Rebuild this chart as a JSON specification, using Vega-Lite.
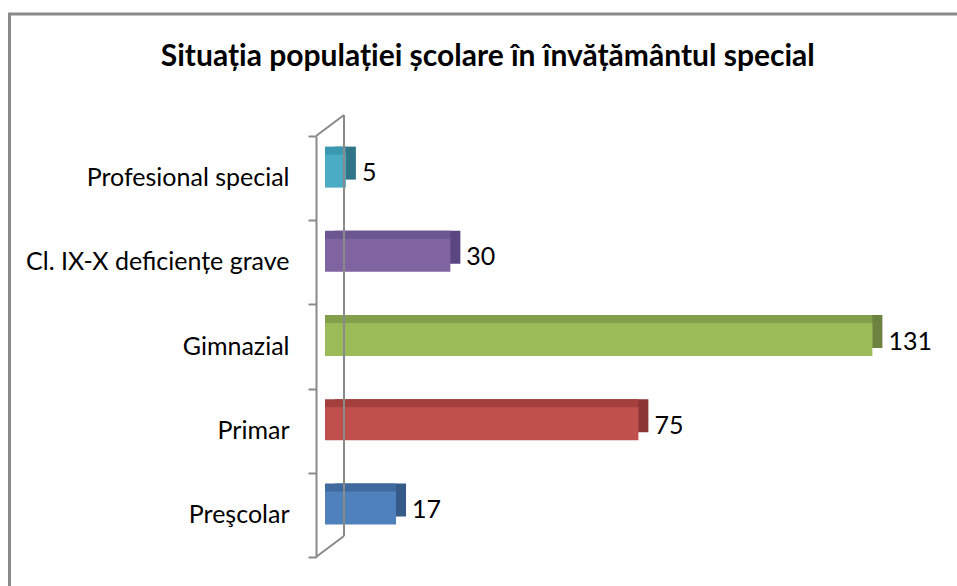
{
  "$schema": "https://vega.github.io/schema/vega-lite/v6.json",
  "width": 952.5,
  "height": 577,
  "autosize": {"type": "none"},
  "padding": {"left": 9.5, "top": 14, "right": -5, "bottom": -5},
  "background": "white",
  "config": {
    "view": {"stroke": "#8a8a8a", "strokeWidth": 3, "fill": "white"},
    "font": "Lato"
  },
  "title": {
    "text": "Situația populației școlare în învățământul special",
    "font": "Lato",
    "fontSize": 30,
    "fontWeight": "bold",
    "color": "#000000",
    "anchor": "middle",
    "frame": "group",
    "offset": -58,
    "dx": 2
  },
  "data": {
    "values": [
      {"cat": "Profesional special", "v": 5},
      {"cat": "Cl. IX-X deficiențe grave", "v": 30},
      {"cat": "Gimnazial", "v": 131},
      {"cat": "Primar", "v": 75},
      {"cat": "Preşcolar", "v": 17}
    ]
  },
  "resolve": {"scale": {"y": "independent"}, "axis": {"y": "independent"}},
  "layer": [
    {
      "resolve": {"scale": {"color": "independent"}},
      "layer": [
        {
          "mark": {"type": "bar", "height": 33, "xOffset": 10, "x2Offset": 10, "yOffset": -15},
          "encoding": {
            "x": {"field": "v", "type": "quantitative", "scale": {"domain": [0, 140], "range": [315.5, 900.5], "nice": false, "zero": true}, "axis": null},
            "y": {"field": "cat", "type": "nominal", "sort": null, "scale": {"domain": ["Profesional special", "Cl. IX-X deficiențe grave", "Gimnazial", "Primar", "Preşcolar"], "range": [122, 543], "paddingInner": 0, "paddingOuter": 0},
              "axis": {"orient": "left", "offset": -306.5, "domain": false, "ticks": false, "labelPadding": 27, "labelFontSize": 25, "labelFont": "Lato", "labelColor": "#000000", "labelLimit": 0, "title": null}},
            "color": {"field": "cat", "type": "nominal", "legend": null, "scale": {"domain": ["Profesional special", "Cl. IX-X deficiențe grave", "Gimnazial", "Primar", "Preşcolar"], "range": ["#2f7487", "#5a4680", "#6b833e", "#8b3634", "#355a87"]}}
          }
        },
        {
          "mark": {"type": "bar", "height": 33, "xOffset": 0, "x2Offset": 10, "yOffset": -15},
          "encoding": {
            "x": {"field": "v", "type": "quantitative"},
            "y": {"field": "cat", "type": "nominal", "sort": null},
            "color": {"field": "cat", "type": "nominal", "legend": null, "scale": {"domain": ["Profesional special", "Cl. IX-X deficiențe grave", "Gimnazial", "Primar", "Preşcolar"], "range": ["#3a98b1", "#6c5692", "#82a04a", "#a3403e", "#40699e"]}}
          }
        },
        {
          "mark": {"type": "bar", "height": 33, "yOffset": -7},
          "encoding": {
            "x": {"field": "v", "type": "quantitative"},
            "y": {"field": "cat", "type": "nominal", "sort": null},
            "color": {"field": "cat", "type": "nominal", "legend": null, "scale": {"domain": ["Profesional special", "Cl. IX-X deficiențe grave", "Gimnazial", "Primar", "Preşcolar"], "range": ["#4bacc6", "#8064a2", "#9bbb59", "#c0504d", "#4f81bd"]}}
          }
        },
        {
          "mark": {"type": "text", "align": "left", "baseline": "middle", "dx": 16, "yOffset": -5, "fontSize": 25, "font": "Lato", "color": "#000000"},
          "encoding": {
            "x": {"field": "v", "type": "quantitative"},
            "y": {"field": "cat", "type": "nominal", "sort": null},
            "text": {"field": "v", "type": "quantitative"}
          }
        }
      ]
    },
    {
      "data": {"values": [{}]},
      "layer": [
        {
          "mark": {"type": "rule", "color": "#8a8a8a", "strokeWidth": 2, "xOffset": 19, "yOffset": -21, "y2Offset": -21},
          "encoding": {
            "x": {"datum": 0, "type": "quantitative"},
            "y": {"datum": 0, "type": "quantitative", "scale": {"domain": [0, 5], "range": [543, 122], "nice": false, "zero": false},
              "axis": {"orient": "left", "offset": -306.5, "values": [0, 1, 2, 3, 4, 5], "labels": false, "tickSize": 8, "tickColor": "#8a8a8a", "tickWidth": 2, "domainColor": "#8a8a8a", "domainWidth": 2, "grid": false, "title": null}},
            "y2": {"datum": 5}
          }
        },
        {
          "mark": {"type": "rule", "color": "#8a8a8a", "strokeWidth": 2, "xOffset": -9, "x2Offset": 19, "yOffset": 0, "y2Offset": -21},
          "encoding": {
            "x": {"datum": 0, "type": "quantitative"},
            "x2": {"datum": 0},
            "y": {"datum": 5, "type": "quantitative"},
            "y2": {"datum": 5}
          }
        },
        {
          "mark": {"type": "rule", "color": "#8a8a8a", "strokeWidth": 2, "xOffset": -9, "x2Offset": 19, "yOffset": 0, "y2Offset": -21},
          "encoding": {
            "x": {"datum": 0, "type": "quantitative"},
            "x2": {"datum": 0},
            "y": {"datum": 0, "type": "quantitative"},
            "y2": {"datum": 0}
          }
        }
      ]
    }
  ]
}
